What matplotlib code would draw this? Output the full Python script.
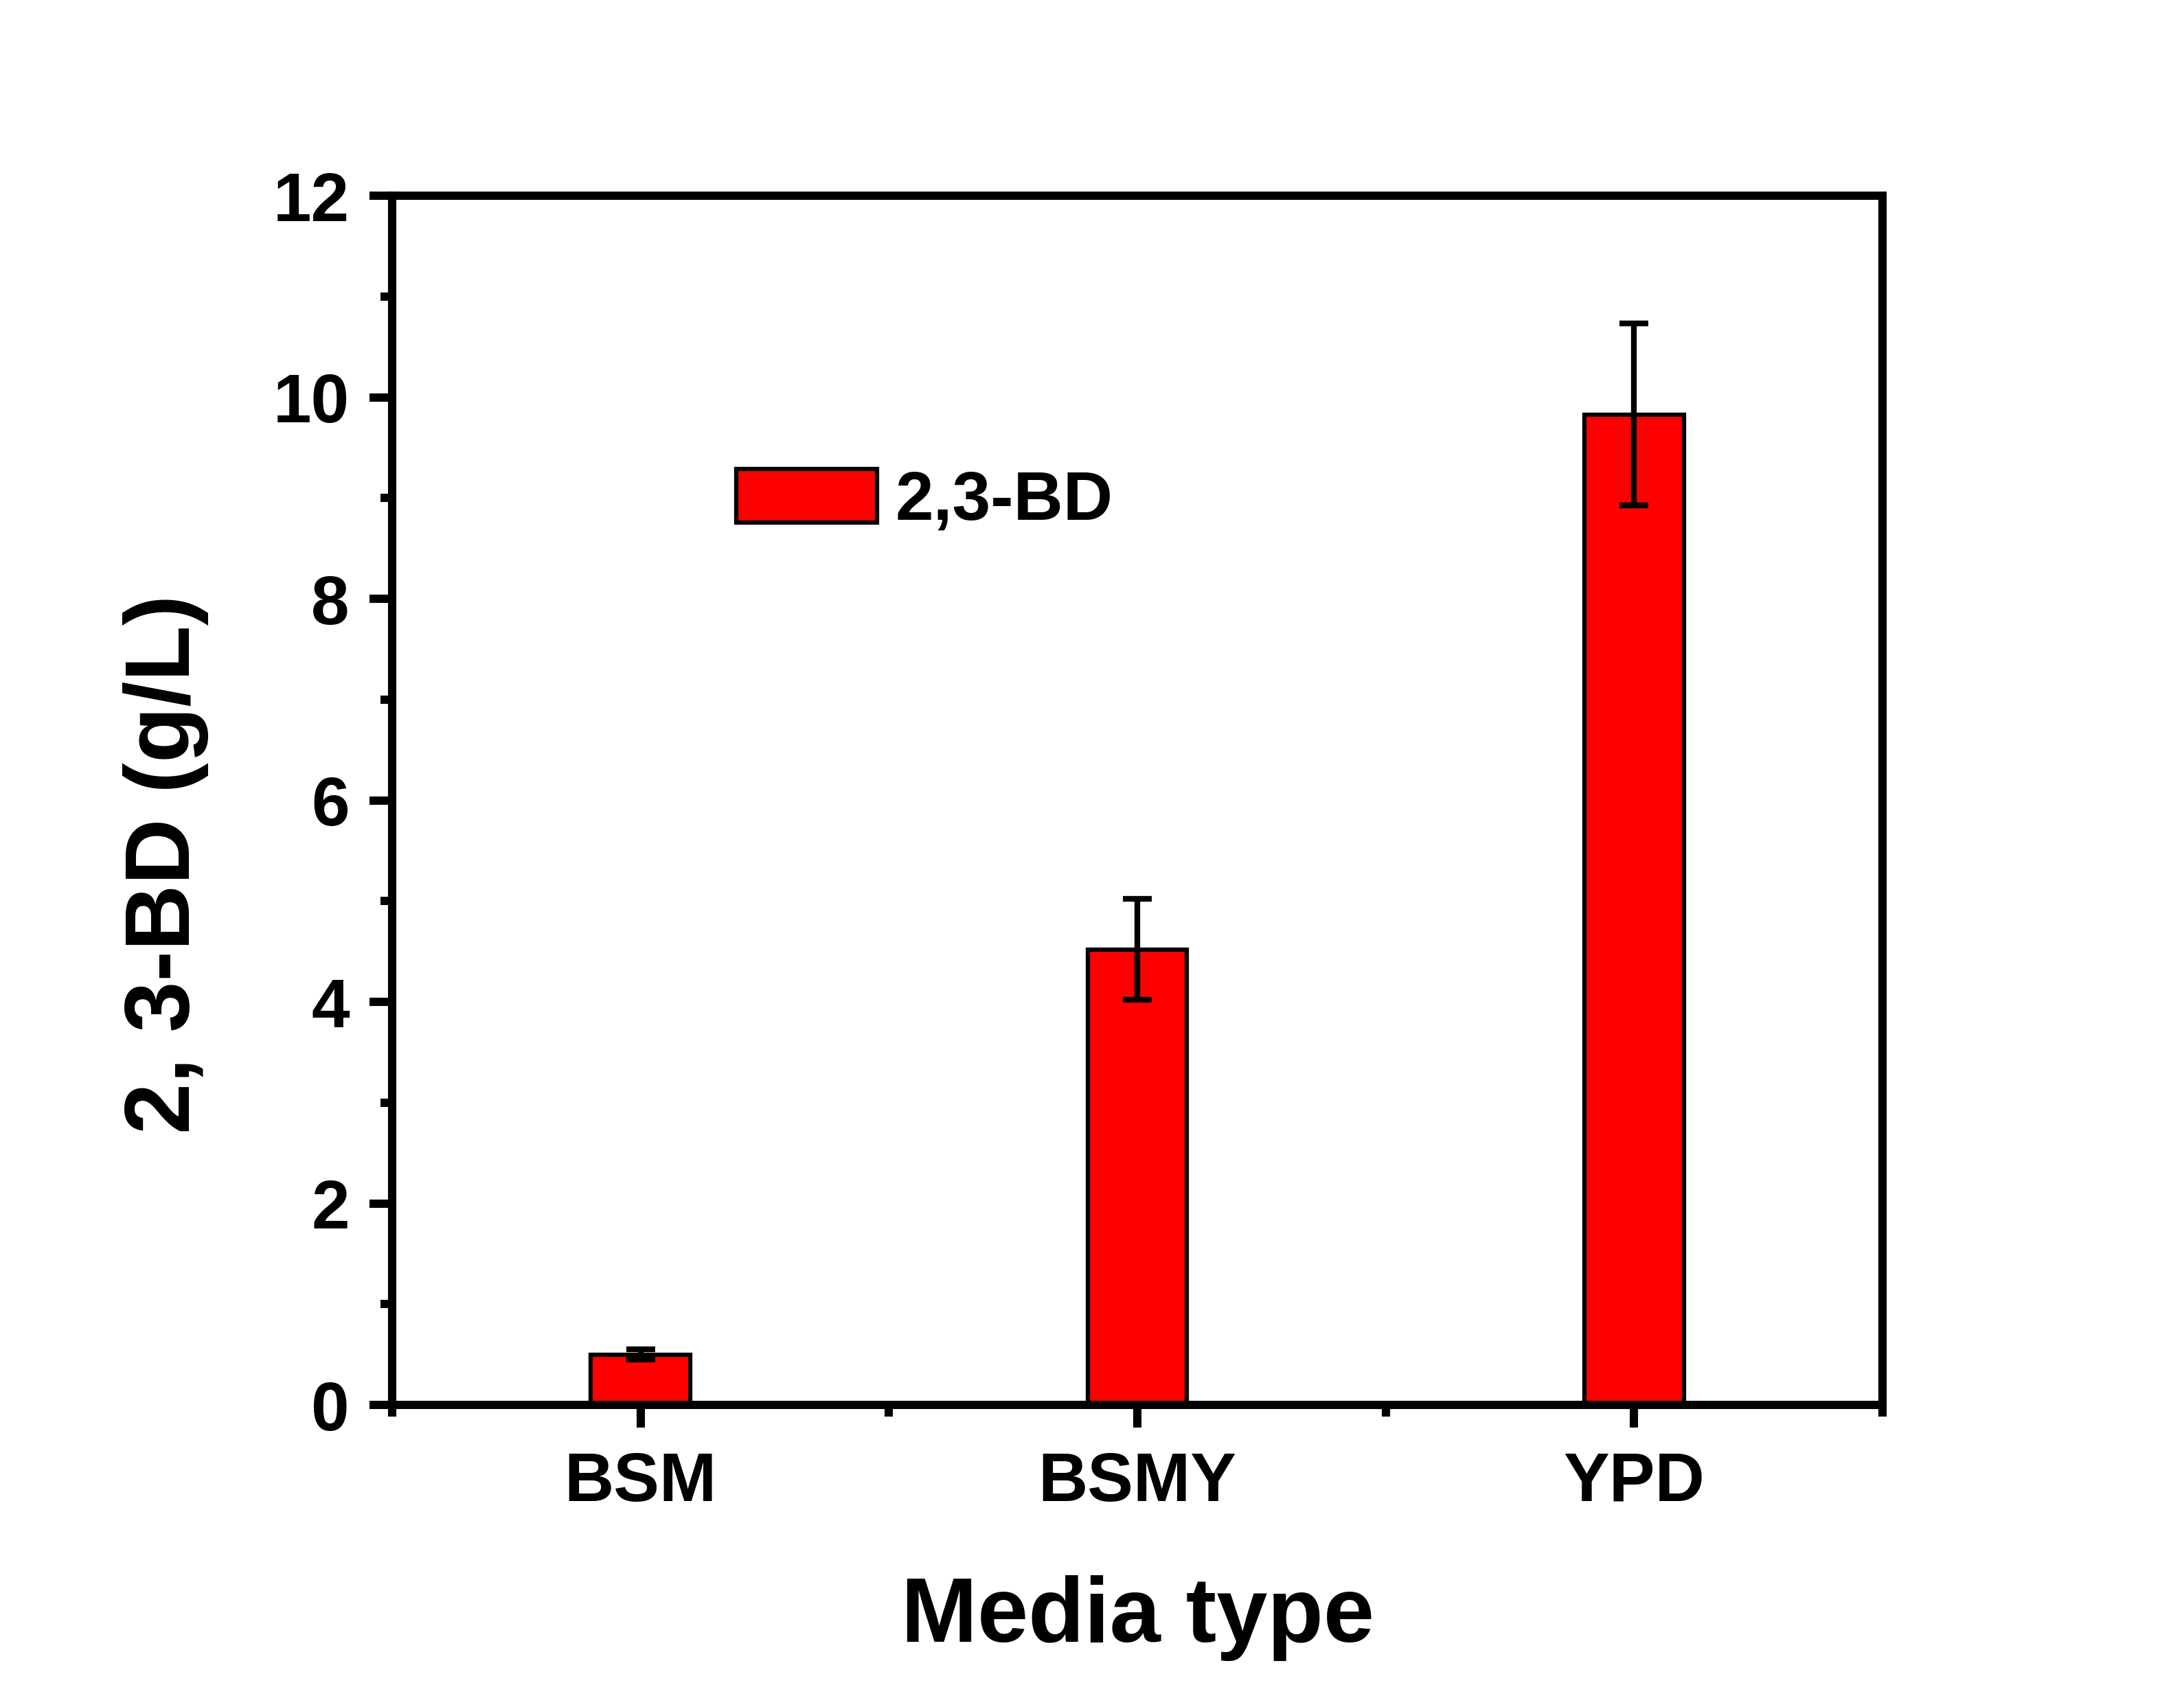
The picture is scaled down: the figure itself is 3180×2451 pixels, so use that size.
import matplotlib.pyplot as plt
from matplotlib.ticker import FixedLocator, MultipleLocator

media = ["BSM", "BSMY", "YPD"]
bd_values = [0.50, 4.52, 9.83]
bd_errors = [0.05, 0.50, 0.90]
y_ticks = [0, 2, 4, 6, 8, 10, 12]

plt.rcParams["font.family"] = ["Liberation Sans", "DejaVu Sans"]
plt.rcParams["font.weight"] = "bold"

fig = plt.figure(figsize=(10.6, 8.17), dpi=300)
ax = fig.add_axes([0.1796, 0.1652, 0.862 - 0.1796, 0.8837 - 0.1652])

pos = [1, 2, 3]
ax.bar(pos, bd_values, width=0.2, color="#ff0000", edgecolor="black",
       linewidth=1.5, label="2,3-BD", zorder=2)
ax.errorbar(pos, bd_values, yerr=bd_errors, fmt="none", ecolor="black",
            elinewidth=2, capsize=5, capthick=2, zorder=3)

ax.set_xlim(0.5, 3.5)
ax.set_ylim(0, 12)
ax.set_xticks(pos)
ax.set_xticklabels(media)
ax.xaxis.set_minor_locator(FixedLocator([0.5, 1.5, 2.5, 3.5]))
ax.set_yticks(y_ticks)
ax.yaxis.set_minor_locator(MultipleLocator(1))

for s in ax.spines.values():
    s.set_linewidth(2.9)
ax.tick_params(axis="both", which="major", direction="out", length=8,
               width=2.9, labelsize=24)
ax.tick_params(axis="both", which="minor", direction="out", length=4,
               width=2.9)
ax.tick_params(axis="y", which="major", pad=7)
ax.tick_params(axis="x", which="major", pad=8)
for lab in ax.get_xticklabels() + ax.get_yticklabels():
    lab.set_fontweight("bold")

ax.set_ylabel("2, 3-BD (g/L)", fontsize=32, fontweight="bold")
ax.yaxis.set_label_coords(-0.123, 0.447)
ax.set_xlabel("Media type", fontsize=32, fontweight="bold", va="baseline")
ax.xaxis.set_label_coords(0.5, -0.196)

leg = ax.legend(loc="center left", bbox_to_anchor=(0.231, 0.747),
                frameon=False, fontsize=24, handlelength=2.05,
                handleheight=0.81, handletextpad=0.26, borderpad=0,
                borderaxespad=0, prop={"weight": "bold", "size": 24})

fig.savefig("out.png", dpi=300)
